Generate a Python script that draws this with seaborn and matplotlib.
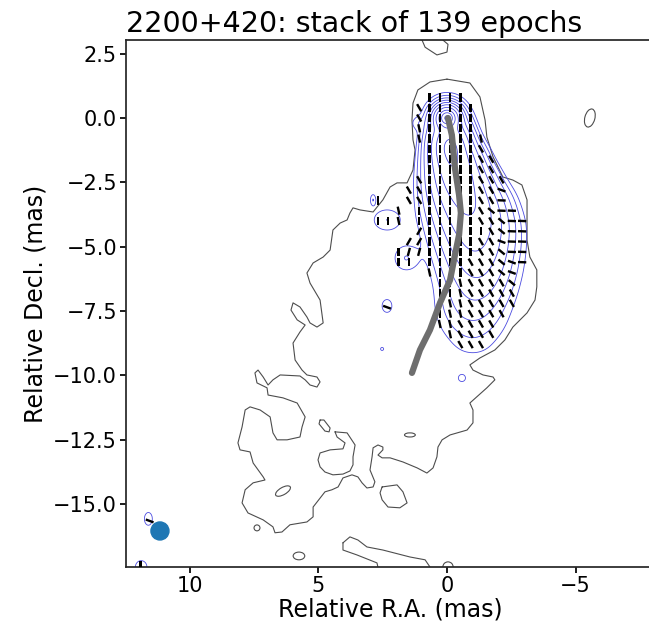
import numpy as np
import matplotlib
matplotlib.use("Agg")
import matplotlib.pyplot as plt
from matplotlib.patches import Ellipse
import seaborn as sns

title = "2200+420: stack of 139 epochs"
xlabel = "Relative R.A. (mas)"
ylabel = "Relative Decl. (mas)"

env_x = [0.00, 0.66, 1.13, 1.32, 1.36, 1.32, 1.24, 1.32, 1.55, 1.94, 2.21, 2.49, 2.87, 3.38, 3.65,
         3.77, 3.88, 4.15, 4.43, 4.54, 4.81, 5.20, 5.44, 5.32, 4.93, 4.81, 5.05, 5.32, 5.44, 5.71,
         5.98, 6.06, 5.82, 5.51, 5.71, 5.98, 5.90, 5.63, 5.44, 5.05, 4.93, 5.05, 5.32, 5.51, 5.71,
         6.48, 6.76, 6.95, 7.14, 7.34, 7.46, 7.38, 6.99, 6.95, 6.37, 5.82, 5.51, 5.63, 5.71, 6.21,
         6.60, 6.76, 6.87, 7.26, 7.65, 7.84, 7.96, 8.12, 8.04, 7.65, 7.53, 7.14, 7.07, 7.53, 7.84,
         7.96, 7.73, 7.14, 6.76, 6.68, 6.41, 6.10, 5.44, 5.20, 5.20, 4.93, 4.74, 4.47, 4.23, 4.04,
         3.69, 3.46, 3.30, 3.11, 2.87, 2.80, 2.99, 2.91, 2.87, 2.68, 2.49, 2.49, 2.68, 2.52, 2.21,
         1.71, 1.16, 0.78, 0.54, 0.39, 0.35, 0.19, -0.12, -0.78, -1.01, -1.01, -0.89, -1.16, -1.55, -1.86,
         -1.79, -1.40, -1.01, -0.89, -1.28, -1.86, -2.25, -2.56, -3.11, -3.42, -3.49, -3.49, -3.22, -3.11, -3.11,
         -2.91, -2.56, -2.17, -1.79, -1.55, -1.48, -1.28, -0.89]
env_y = [1.51, 1.40, 1.09, 0.58, -0.08, -0.85, -1.24, -2.02, -2.52, -2.52, -2.68, -3.18, -3.65, -3.57, -3.49,
         -3.69, -3.96, -4.08, -4.35, -5.13, -5.40, -5.63, -6.02, -6.41, -7.07, -7.96, -8.12, -7.96, -7.73, -7.34,
         -7.18, -7.46, -7.84, -8.04, -8.31, -8.74, -9.40, -9.79, -9.98, -10.06, -10.25, -10.45, -10.37, -10.17, -10.02,
         -9.98, -10.17, -10.37, -10.06, -9.79, -9.90, -10.29, -10.48, -10.76, -10.87, -11.07, -11.61, -12.00, -12.39, -12.50,
         -12.50, -12.23, -11.61, -11.34, -11.22, -11.34, -12.00, -12.62, -12.89, -12.97, -13.40, -13.94, -14.06, -14.17, -14.44,
         -14.95, -15.34, -15.61, -15.88, -16.11, -16.08, -15.80, -15.69, -15.49, -15.11, -14.76, -14.52, -14.44, -14.33, -13.98,
         -13.86, -13.94, -14.17, -14.37, -14.33, -14.13, -13.67, -13.16, -12.81, -12.70, -12.78, -12.89, -13.09, -13.20, -13.20,
         -13.36, -13.59, -13.79, -13.59, -13.16, -12.78, -12.50, -12.31, -12.12, -11.84, -11.34, -11.07, -10.83, -10.48, -10.17,
         -10.06, -9.98, -9.79, -9.59, -9.32, -9.01, -8.62, -8.12, -7.57, -7.07, -6.56, -5.90, -5.40, -4.74, -3.18,
         -2.60, -2.41, -2.29, -1.51, -0.74, -0.08, 0.82, 1.36]

# detached pieces of the same contour
top_isl_x = [0.97, 0.85, 0.39, 0.00, -0.04, 0.16, 0.16, 0.97]
top_isl_y = [3.03, 2.75, 2.45, 2.56, 2.86, 3.03, 3.40, 3.40]
loop_isl_x = [4.35, 3.88, 3.57, 3.65, 3.65, 3.77, 4.04, 4.43, 4.74, 4.93, 5.01, 4.93, 4.54, 4.04, 3.96, 4.27]
loop_isl_y = [-12.19, -12.23, -12.70, -13.16, -13.47, -13.71, -13.83, -13.86, -13.75, -13.55, -13.28, -13.01, -12.89, -12.85, -12.62, -12.39]
slim_isl_x = [4.93, 4.78, 4.54, 4.58, 4.74, 4.97]
slim_isl_y = [-11.73, -11.73, -12.04, -12.19, -12.16, -11.88]
ring_isl_x = [2.52, 1.94, 1.71, 1.55, 1.83, 2.29, 2.52, 2.60]
ring_isl_y = [-14.33, -14.25, -14.52, -14.95, -15.14, -15.11, -14.83, -14.56]
base_isl_x = [4.04, 3.77, 3.46, 3.11, 2.49, 1.44, 0.85, 0.66, 0.66, 2.60, 2.72, 3.50, 4.04]
base_isl_y = [-16.50, -16.27, -16.39, -16.66, -16.78, -17.05, -17.16, -17.44, -17.80, -17.80, -17.28, -16.97, -16.78]

# small elliptical islands: centre, width, height, tilt (mas, deg)
ell_x = [-5.55, 1.44, -0.04, 5.75, 7.38, 6.37]
ell_y = [0.00, -12.31, -17.44, -17.01, -15.92, -14.49]
ell_w = [0.39, 0.42, 0.40, 0.45, 0.23, 0.65]
ell_h = [0.72, 0.16, 0.40, 0.30, 0.23, 0.28]
ell_a = [15, 0, 0, 0, 0, -30]

# polarised emission model (blue contours): gaussian components
pc_x = [0.0, 0.0, 0.0, 1.15,
        -0.1, -0.3, -0.5, -0.8, -1.0, -1.1, -1.15, -1.15, -1.0, -1.0, -1.0,
        2.33, 1.59, 2.87, 2.33, 2.52, -0.58, 11.6, 11.88]
pc_y = [0.0, 0.0, 0.0, -0.2,
        -1.0, -1.8, -2.6, -3.4, -4.2, -5.0, -5.8, -6.6, -7.4, -8.2, -9.0,
        -3.96, -5.44, -3.18, -7.3, -8.97, -10.1, -15.57, -17.44]
pc_sx = [0.12, 0.25, 0.45, 0.2,
         0.4, 0.5, 0.6, 0.7, 0.75, 0.75, 0.75, 0.75, 0.8, 0.85, 0.75,
         0.42, 0.36, 0.085, 0.16, 0.05, 0.15, 0.13, 0.19]
pc_sy = [0.12, 0.25, 0.45, 0.2,
         0.5, 0.5, 0.5, 0.5, 0.5, 0.5, 0.5, 0.5, 0.5, 0.5, 0.4,
         0.33, 0.38, 0.17, 0.21, 0.05, 0.15, 0.21, 0.21]
pc_amp = [380, 210, 10, 1.2,
          120, 85, 65, 48, 34, 22, 13, 7, 3.6, 1.7, 0.7,
          2.0, 2.0, 2.0, 2.0, 2.0, 1.5, 2.0, 2.0]
pol_levels = [1, 2, 4, 8, 16, 32, 64, 128, 256, 512]

# EVPA sticks on a 0.4 mas grid, one string per row (top row at y=0.8, first column at x=2.68)
evpa_rows = [
    ".....||||......",
    "....k|||||.....",
    "....k||.||.....",
    "....i|||||.....",
    "....i|||||i....",
    ".....|||||k....",
    ".....|||||kk...",
    ".....|||||kk...",
    "....k|||||kkk..",
    "...kk|||||kkz..",
    "|..kk|||||kk-..",
    "..i.||||||kx--.",
    "||i.||||||kkx--",
    "....r||||||kx--",
    "...rr|||||kkz--",
    "..|//|||||kkx--",
    "..||.||||kkkxz-",
    ".....i|||kkkxz.",
    "......||ikkkkx.",
    "......||ikkkkk.",
    "......|iikkkkk.",
    "......|iikkkk..",
    "......iikkkk...",
    ".......ikkkk...",
    "........kkk....",
]
evpa_angle = {"|": 0, "i": 12, "k": 30, "x": 50, "z": 70, "-": 88, "/": -15, "r": -30}
extra_tick_x = [2.33, 11.55, 11.9]
extra_tick_y = [-7.35, -15.65, -17.35]
extra_tick_a = [70, 70, 0]

ridge_x = [-0.04, -0.19, -0.31, -0.47, -0.54, -0.47, -0.31, -0.12, 0.27, 0.66, 1.05, 1.36]
ridge_y = [0.00, -0.66, -1.94, -2.99, -3.69, -4.54, -5.32, -6.29, -7.18, -8.23, -9.01, -9.90]

beam_x, beam_y, beam_d = 11.15, -16.04, 0.70

sns.set_theme(style="ticks")
plt.rcParams["font.family"] = ["DejaVu Sans"]
plt.rcParams["text.color"] = "black"
plt.rcParams["axes.labelcolor"] = "black"
plt.rcParams["xtick.color"] = "black"
plt.rcParams["ytick.color"] = "black"

fig = plt.figure(figsize=(6.49, 6.22), dpi=100)
ax = fig.add_axes([0.1941, 0.0884, 0.8151, 0.8473])

# black contour
ax.plot(env_x + env_x[:1], env_y + env_y[:1], color="0.3", lw=0.8)
for xs, ys in [(top_isl_x, top_isl_y), (loop_isl_x, loop_isl_y), (slim_isl_x, slim_isl_y),
               (ring_isl_x, ring_isl_y), (base_isl_x, base_isl_y)]:
    ax.plot(xs + xs[:1], ys + ys[:1], color="0.3", lw=0.8)
for cx, cy, w, h, a in zip(ell_x, ell_y, ell_w, ell_h, ell_a):
    ax.add_patch(Ellipse((cx, cy), w, h, angle=a, fill=False, ec="0.3", lw=0.8))

# blue contours
gx = np.arange(-8.6, 13.2, 0.025)
gy = np.arange(-18.2, 3.6, 0.025)
X, Y = np.meshgrid(gx, gy)
Z = np.zeros_like(X)
for x0, y0, sx, sy, a in zip(pc_x, pc_y, pc_sx, pc_sy, pc_amp):
    Z += a * np.exp(-0.5 * (((X - x0) / sx) ** 2 + ((Y - y0) / sy) ** 2))
ax.contour(X, Y, Z, levels=pol_levels, colors="#4b4be0", linewidths=0.6, zorder=2)

# EVPA ticks
tx, ty, ta = [], [], []
for j, row in enumerate(evpa_rows):
    for i, ch in enumerate(row):
        if ch in evpa_angle:
            tx.append(2.68 - 0.4 * i)
            ty.append(0.8 - 0.4 * j)
            ta.append(evpa_angle[ch])
tx += extra_tick_x
ty += extra_tick_y
ta += extra_tick_a
rad = np.deg2rad(ta)
L = 0.32
ax.quiver(tx, ty, L * np.sin(rad), L * np.cos(rad), angles="xy", scale_units="xy", scale=1,
          pivot="mid", headwidth=0, headlength=0, headaxislength=0, width=0.0045,
          color="black", zorder=4)

# jet ridge line
sns.lineplot(x=ridge_x, y=ridge_y, sort=False, estimator=None, color="#6e6e6e", lw=4.5,
             ax=ax, zorder=5)

ax.add_patch(Ellipse((beam_x, beam_y), beam_d, beam_d, color="#1f77b4", zorder=6))

ax.set_xlim(12.47, -8.08)
ax.set_ylim(-17.44, 3.03)
ax.set_xticks([10, 5, 0, -5])
ax.set_yticks(np.arange(-15, 3, 2.5))
ax.tick_params(labelsize=15, length=4, pad=2.5)
ax.set_xlabel(xlabel, fontsize=17, labelpad=1)
ax.set_ylabel(ylabel, fontsize=17)
ax.set_title(title, fontsize=20.5, loc="left")

fig.savefig("out.png", dpi=100)
